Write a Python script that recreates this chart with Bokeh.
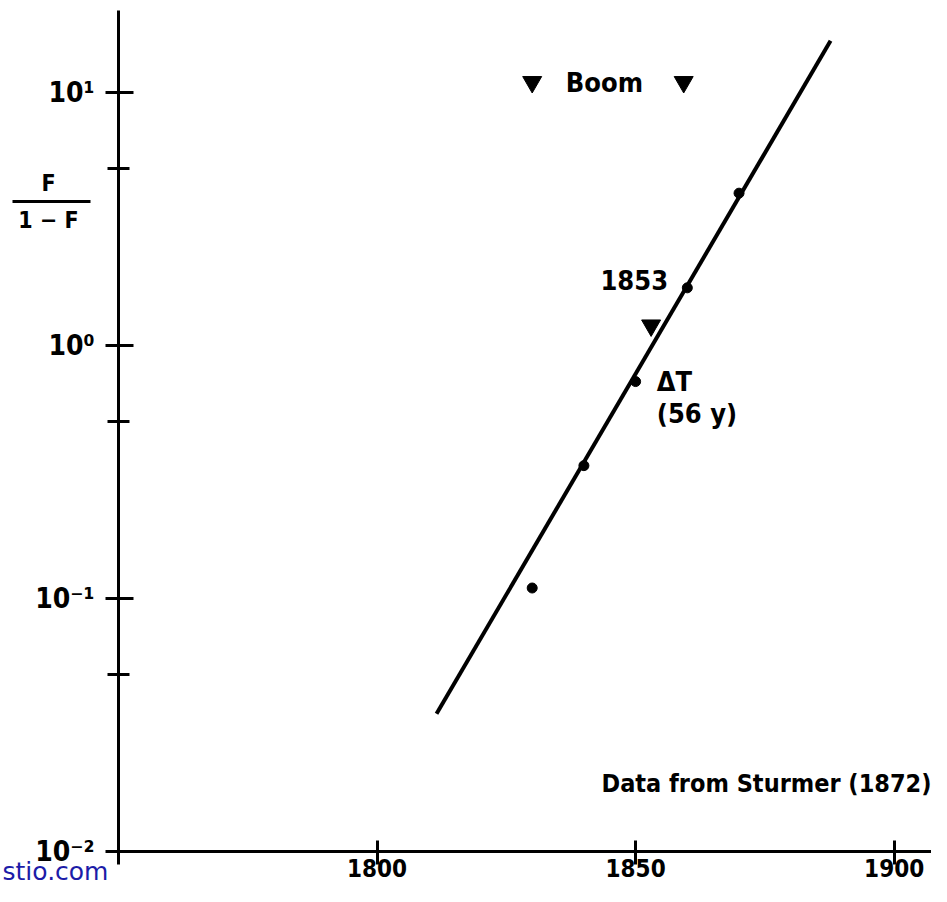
from bokeh.plotting import figure
from bokeh.models import Range1d, FixedTicker, Label, BoxAnnotation
from bokeh.core.properties import value
from bokeh.embed import file_html
from bokeh.resources import INLINE

# ---- data ----
years = [1830, 1840, 1850, 1860, 1870]
ratio = [0.11, 0.335, 0.72, 1.69, 4.0]
fit_years = [1811.5, 1887.7]
fit_ratio = [0.035, 16.0]
boom_years = [1830, 1859.3]
boom_ratio = [11.0, 11.0]
mark_year = [1853]
mark_ratio = [1.2]
x_ticks = [1750, 1800, 1850, 1900]
x_tick_labels = {1750: "", 1800: "1800", 1850: "1850", 1900: "1900"}
y_ticks = [0.01, 0.1, 1, 10]
y_minor = [0.05, 0.5, 5]
y_tick_labels = {0.01: "10\u207b\u00b2", 0.1: "10\u207b\u00b9", 1: "10\u2070", 10: "10\u00b9"}

FONT = value("DejaVu Sans Condensed")

p = figure(width=931, height=886, y_axis_type="log",
           x_range=Range1d(1727.18, 1907.22), y_range=Range1d(0.00727, 23.1),
           output_backend="svg", toolbar_location=None,
           min_border_left=0, min_border_right=0, min_border_top=0, min_border_bottom=0)
p.outline_line_color = None
p.xgrid.visible = False
p.ygrid.visible = False
p.background_fill_color = "white"
p.border_fill_color = "white"

for ax in (p.xaxis[0], p.yaxis[0]):
    ax.axis_line_width = 3
    ax.major_tick_line_width = 3
    ax.minor_tick_line_width = 3
    ax.major_label_text_font = "DejaVu Sans Condensed"
    ax.major_label_text_font_style = "bold"
    ax.major_label_text_color = "black"

# axes drawn at fixed positions inside a full-canvas frame
p.xaxis.fixed_location = 0.01
p.xaxis.bounds = (1750, 1907.2)
p.yaxis.fixed_location = 1750
p.yaxis.bounds = (0.01, 21.1)

p.xaxis.ticker = FixedTicker(ticks=x_ticks, minor_ticks=[])
p.xaxis.major_label_overrides = x_tick_labels
p.xaxis.major_label_text_font_size = "24px"
p.xaxis.major_tick_in = 11
p.xaxis.major_tick_out = 13
p.xaxis.minor_tick_in = 0
p.xaxis.minor_tick_out = 0
p.xaxis.major_label_standoff = -5

p.yaxis.ticker = FixedTicker(ticks=y_ticks, minor_ticks=y_minor)
p.yaxis.major_label_overrides = y_tick_labels
p.yaxis.major_label_text_font_size = "28px"
p.yaxis.major_tick_in = 15
p.yaxis.major_tick_out = 13
p.yaxis.minor_tick_in = 11
p.yaxis.minor_tick_out = 11
p.yaxis.major_label_standoff = 11

# fitted line and data
p.line(fit_years, fit_ratio, line_width=4, line_color="black")
p.scatter(years, ratio, size=10, color="black")
p.scatter(boom_years, boom_ratio, marker="inverted_triangle", size=19, color="black")
p.scatter(mark_year, mark_ratio, marker="inverted_triangle", size=19, color="black")

txt = dict(text_font=FONT, text_font_style="bold", text_font_size="27px",
           text_color="black", text_baseline="middle", text_align="left")
p.text(x=[1836.5], y=[11.0], text=["Boom"], **txt)
p.text(x=[1843.2], y=[1.82], text=["1853"], **txt)
p.text(x=[1854.1], y=[0.72], text=["\u0394T"], **txt)
p.text(x=[1854.1], y=[0.54], text=["(56 y)"], **txt)
p.text(x=[1843.4], y=[0.0185], text=["Data from Sturmer (1872)"],
       **{**txt, "text_font_size": "25px"})

# y axis label as a fraction
lab = dict(x_units="screen", y_units="data", text_font="DejaVu Sans Condensed",
           text_font_style="bold", text_font_size="23px", text_color="black",
           text_align="center", text_baseline="middle")
p.add_layout(Label(x=48, y=4.37, text="F", **lab))
p.add_layout(Label(x=48, y=3.12, text="1 \u2212 F", **lab))
p.add_layout(BoxAnnotation(left=12, right=90, left_units="screen", right_units="screen",
                           top=3.76, bottom=3.66, fill_color="black", fill_alpha=1,
                           line_color=None))

# watermark
p.add_layout(Label(x=2, y=0.0083, x_units="screen", y_units="data", text="stio.com",
                   text_font="DejaVu Sans", text_font_size="25px",
                   text_color="#1c1ca8", text_baseline="middle", text_align="left"))

open("out.html", "w").write(file_html(p, INLINE))
